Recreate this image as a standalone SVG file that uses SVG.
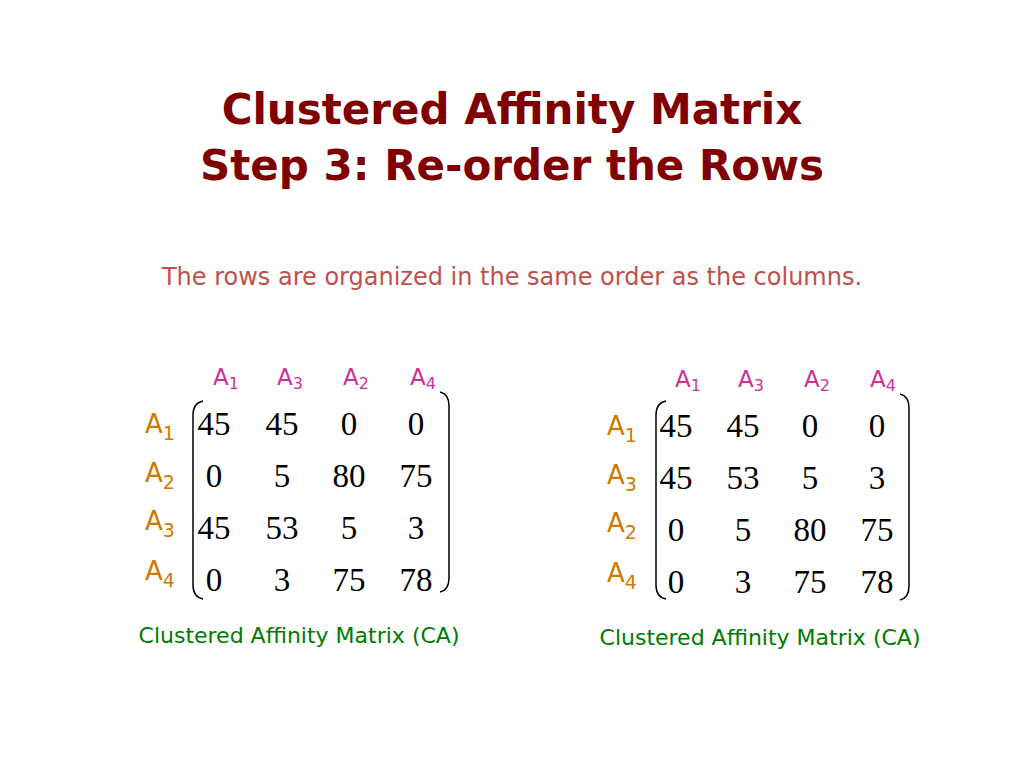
<svg xmlns="http://www.w3.org/2000/svg" width="1024" height="768" viewBox="0 0 1024 768">
<style>
.t{font-family:"DejaVu Sans",sans-serif;font-weight:bold;font-size:42px;fill:#800000;text-anchor:middle}
.s{font-family:"DejaVu Sans",sans-serif;font-size:24px;fill:#C0504D;text-anchor:middle}
.n{font-family:"Liberation Serif",serif;font-size:33px;fill:#000;text-anchor:middle}
.h{font-family:"DejaVu Sans",sans-serif;font-size:23px;fill:#CC3399}
.r{font-family:"DejaVu Sans",sans-serif;font-size:26px;fill:#CC7A00}
.c{font-family:"DejaVu Sans",sans-serif;font-size:22px;fill:#007A00;text-anchor:middle}
.b{fill:none;stroke:#000;stroke-width:1.5}
</style>
<rect width="1024" height="768" fill="#fff"/>
<text class="t" x="512" y="124">Clustered Affinity Matrix</text>
<text class="t" x="512" y="180">Step 3: Re-order the Rows</text>
<text class="s" x="512" y="285">The rows are organized in the same order as the columns.</text>
<g id="m1">
<text class="h" y="385"><tspan x="213">A</tspan><tspan font-size="16" dy="4">1</tspan><tspan x="277" dy="-4">A</tspan><tspan font-size="16" dy="4">3</tspan><tspan x="343" dy="-4">A</tspan><tspan font-size="16" dy="4">2</tspan><tspan x="410" dy="-4">A</tspan><tspan font-size="16" dy="4">4</tspan></text>
<text class="r" x="145" y="433">A<tspan font-size="19" dy="7">1</tspan></text>
<text class="r" x="145" y="482">A<tspan font-size="19" dy="7">2</tspan></text>
<text class="r" x="145" y="530">A<tspan font-size="19" dy="7">3</tspan></text>
<text class="r" x="145" y="580">A<tspan font-size="19" dy="7">4</tspan></text>
<path class="b" d="M203,401 Q193,403 193,415 L193,585 Q193,597 203,599"/>
<path class="b" d="M440,392 Q449,394 449,406 L449,578 Q449,590 440,592"/>
<text class="n" y="435"><tspan x="214">45</tspan><tspan x="282">45</tspan><tspan x="349">0</tspan><tspan x="416">0</tspan></text>
<text class="n" y="487"><tspan x="214">0</tspan><tspan x="282">5</tspan><tspan x="349">80</tspan><tspan x="416">75</tspan></text>
<text class="n" y="539"><tspan x="214">45</tspan><tspan x="282">53</tspan><tspan x="349">5</tspan><tspan x="416">3</tspan></text>
<text class="n" y="591"><tspan x="214">0</tspan><tspan x="282">3</tspan><tspan x="349">75</tspan><tspan x="416">78</tspan></text>
<text class="c" x="299" y="643">Clustered Affinity Matrix (CA)</text>
</g>
<g id="m2">
<text class="h" y="387"><tspan x="675">A</tspan><tspan font-size="16" dy="4">1</tspan><tspan x="738" dy="-4">A</tspan><tspan font-size="16" dy="4">3</tspan><tspan x="804" dy="-4">A</tspan><tspan font-size="16" dy="4">2</tspan><tspan x="870" dy="-4">A</tspan><tspan font-size="16" dy="4">4</tspan></text>
<text class="r" x="607" y="435">A<tspan font-size="19" dy="7">1</tspan></text>
<text class="r" x="607" y="484">A<tspan font-size="19" dy="7">3</tspan></text>
<text class="r" x="607" y="532">A<tspan font-size="19" dy="7">2</tspan></text>
<text class="r" x="607" y="582">A<tspan font-size="19" dy="7">4</tspan></text>
<path class="b" d="M666,401 Q656,403 656,415 L656,585 Q656,597 666,599"/>
<path class="b" d="M900,394 Q909,396 909,408 L909,586 Q909,598 900,600"/>
<text class="n" y="437"><tspan x="676">45</tspan><tspan x="743">45</tspan><tspan x="810">0</tspan><tspan x="877">0</tspan></text>
<text class="n" y="489"><tspan x="676">45</tspan><tspan x="743">53</tspan><tspan x="810">5</tspan><tspan x="877">3</tspan></text>
<text class="n" y="541"><tspan x="676">0</tspan><tspan x="743">5</tspan><tspan x="810">80</tspan><tspan x="877">75</tspan></text>
<text class="n" y="593"><tspan x="676">0</tspan><tspan x="743">3</tspan><tspan x="810">75</tspan><tspan x="877">78</tspan></text>
<text class="c" x="760" y="645">Clustered Affinity Matrix (CA)</text>
</g>
</svg>
